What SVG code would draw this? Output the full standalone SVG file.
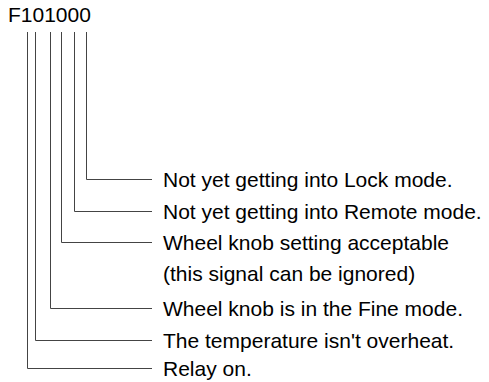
<svg xmlns="http://www.w3.org/2000/svg" width="489" height="382" viewBox="0 0 489 382">
<style>
text{font-family:"Liberation Sans",Arial,sans-serif;font-size:21px;fill:#000}
.c{fill:none;stroke:#444;stroke-width:1}
</style>
<rect width="489" height="382" fill="#fff"/>
<g id="title"><text x="8" y="22">F101000</text></g>
<g id="connectors">
<path class="c" d="M27.5 32V368.5H152"/>
<path class="c" d="M35.5 32V340.5H152"/>
<path class="c" d="M50.5 32V308.5H152"/>
<path class="c" d="M61.5 32V242.5H152"/>
<path class="c" d="M74.5 32V211.5H152"/>
<path class="c" d="M86.5 32V179.5H152"/>
</g>
<g id="n-lock"><text x="163" y="186.5">Not yet getting into Lock mode.</text></g>
<g id="n-remote"><text x="163" y="218.5">Not yet getting into Remote mode.</text></g>
<g id="n-wheel"><text x="163" y="249.5">Wheel knob setting acceptable</text><text x="163" y="281">(this signal can be ignored)</text></g>
<g id="n-fine"><text x="163" y="315.5">Wheel knob is in the Fine mode.</text></g>
<g id="n-temp"><text x="163" y="347.5">The temperature isn't overheat.</text></g>
<g id="n-relay"><text x="163" y="375.5">Relay on.</text></g>
</svg>
